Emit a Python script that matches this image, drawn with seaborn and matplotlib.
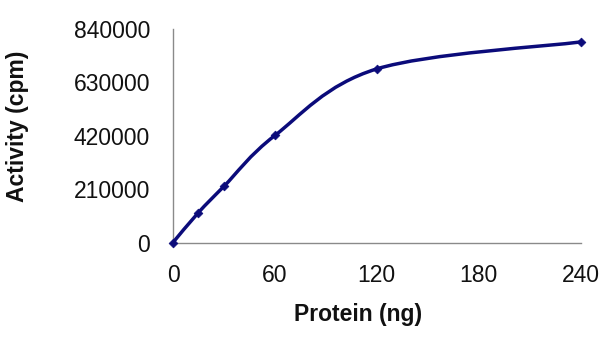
import numpy as np
import pandas as pd
import matplotlib
matplotlib.use("Agg")
import matplotlib.pyplot as plt
from matplotlib.path import Path
from matplotlib.patches import PathPatch
import seaborn as sns

# Kinase activity versus amount of protein
protein_ng = [0, 15, 30, 60, 120, 240]
activity_cpm = [0, 118000, 221000, 421000, 683000, 789000]
x_ticks = [0, 60, 120, 180, 240]
y_ticks = [0, 210000, 420000, 630000, 840000]

df = pd.DataFrame({"protein": protein_ng, "activity": activity_cpm})

sns.set_theme(style="white")
plt.rcParams["font.family"] = ["Liberation Sans", "DejaVu Sans"]

NAVY = "#0b0b7a"
AXIS_GREY = "#8a8a8a"

fig = plt.figure(figsize=(6.16, 3.43), dpi=100)
ax = fig.add_axes([173 / 616, 1 - 242.5 / 343, (580.5 - 173) / 616, (242.5 - 29) / 343])


def smooth_path(xs, ys):
    """Cubic Bezier path through the points (Catmull-Rom style smoothing)."""
    pts = np.column_stack([xs, ys]).astype(float)
    n = len(pts)
    verts = [pts[0]]
    codes = [Path.MOVETO]
    for i in range(n - 1):
        p_prev = pts[i - 1] if i > 0 else pts[i]
        p0, p1 = pts[i], pts[i + 1]
        p_next = pts[i + 2] if i + 2 < n else pts[i + 1]
        c1 = p0 + (p1 - p_prev) / 6.0
        c2 = p1 - (p_next - p0) / 6.0
        verts += [c1, c2, p1]
        codes += [Path.CURVE4] * 3
    return Path(verts, codes)


ax.add_patch(PathPatch(smooth_path(df["protein"], df["activity"]),
                       facecolor="none", edgecolor=NAVY, lw=2.5,
                       capstyle="round", joinstyle="round", zorder=3,
                       clip_on=False))

sns.scatterplot(data=df, x="protein", y="activity", ax=ax, marker="D",
                s=20, color=NAVY, edgecolor=NAVY, linewidth=0.5,
                zorder=4, clip_on=False, legend=False)

ax.set_xlim(0, 240)
ax.set_ylim(0, 840000)
ax.set_xticks(x_ticks)
ax.set_yticks(y_ticks)
ax.set_xticklabels([str(v) for v in x_ticks])
ax.set_yticklabels([str(v) for v in y_ticks])

for side in ["top", "right"]:
    ax.spines[side].set_visible(False)
for side in ["left", "bottom"]:
    ax.spines[side].set_color(AXIS_GREY)
    ax.spines[side].set_linewidth(1.0)

ax.tick_params(axis="both", which="major", direction="out", length=5.5,
               width=1.0, color=AXIS_GREY, labelsize=16.5, labelcolor="#111111")
ax.tick_params(axis="y", pad=11)
ax.tick_params(axis="x", pad=10)

ax.set_xlabel("")
ax.set_ylabel("")
fig.text(358 / 616, 1 - 314 / 343, "Protein (ng)", ha="center", va="center",
         fontsize=16.5, fontweight="bold", color="#111111")
fig.text(18 / 616, 1 - 126 / 343, "Activity (cpm)", ha="center", va="center",
         rotation=90, fontsize=16.5, fontweight="bold", color="#111111")

fig.savefig("out.png", dpi=100, facecolor="white")
